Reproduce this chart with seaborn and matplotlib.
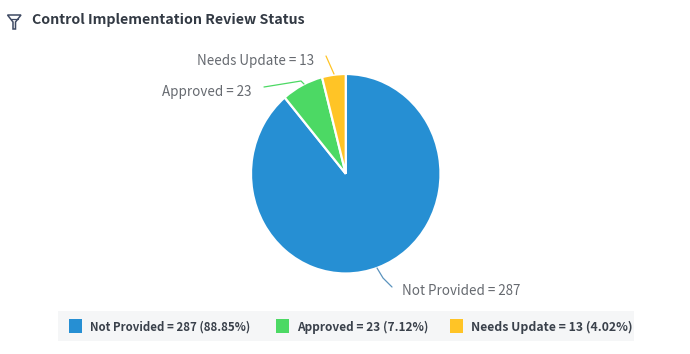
import matplotlib
matplotlib.use('Agg')
import matplotlib.pyplot as plt
import seaborn as sns
from matplotlib.lines import Line2D
from matplotlib.patches import Polygon, Rectangle

labels = ['Not Provided', 'Approved', 'Needs Update']
counts = [287, 23, 13]
percents = ['88.85%', '7.12%', '4.02%']
colors = ['#268fd3', '#4cd964', '#ffc426']

W, H = 690, 354

sns.set_theme(style='white')
plt.rcParams['font.family'] = ['Noto Sans CJK SC', 'DejaVu Sans']


def px(x, y):
    # pixel position (from top left) to figure fraction
    return x / W, 1 - y / H


fig = plt.figure(figsize=(W / 100, H / 100), dpi=100)

# pie, slightly squashed like the screenshot
ax = fig.add_axes([251 / W, 1 - 273.5 / H, 189.5 / W, 199.5 / H])
ax.pie(counts, colors=sns.color_palette(colors), startangle=90, counterclock=False,
       radius=1, wedgeprops={'edgecolor': 'white', 'linewidth': 1.6})
ax.set_aspect('auto')
ax.set_xlim(-1, 1)
ax.set_ylim(-1, 1)

# title and funnel icon
fig.text(*px(31.5, 20), 'Control Implementation Review Status', fontsize=10.25, fontweight='bold',
         color='#333a44', va='center', ha='left')
fig.add_artist(Polygon([px(7.5, 15), px(21, 15), px(15.5, 22), px(15.5, 29), px(13, 29), px(13, 22)],
                       closed=True, fill=False, edgecolor='#3f4a63', linewidth=1.1,
                       transform=fig.transFigure))
fig.add_artist(Line2D(*zip(px(10.5, 18.5), px(18, 18.5)), color='#3f4a63', linewidth=0.9))

# slice labels and leader lines
label_pos = [(402, 291), (162, 92), (197, 60.5)]
leaders = [
    [(377, 268), (383, 278), (392, 287)],
    [(264, 87), (301, 81), (304, 84)],
    [(326, 56), (334, 74)],
]
line_cols = ['#5b93bd', colors[1], colors[2]]
for name, n, pos, pts, c in zip(labels, counts, label_pos, leaders, line_cols):
    fig.text(*px(*pos), f'{name} = {n}', fontsize=9.65, color='#666a70', va='center', ha='left')
    fig.add_artist(Line2D(*zip(*[px(*p) for p in pts]), color=c, linewidth=0.9))

# legend strip
fig.add_artist(Rectangle(px(58, 341), 576 / W, 30 / H, facecolor='#f5f6f7', edgecolor='none',
                         transform=fig.transFigure, zorder=0))
legend_x = [(69, 90), (276, 297), (450, 471)]
legend_size = [8.25, 8.55, 8.85]
for name, n, pct, c, (bx, tx), fs in zip(labels, counts, percents, colors, legend_x, legend_size):
    fig.add_artist(Rectangle(px(bx, 333), 13 / W, 14 / H, facecolor=c, edgecolor='none',
                             transform=fig.transFigure))
    fig.text(*px(tx, 327.5), f'{name} = {n} ({pct})', fontsize=fs, fontweight='bold',
             color='#3a414b', va='center', ha='left')

fig.savefig('out.png', dpi=100)
